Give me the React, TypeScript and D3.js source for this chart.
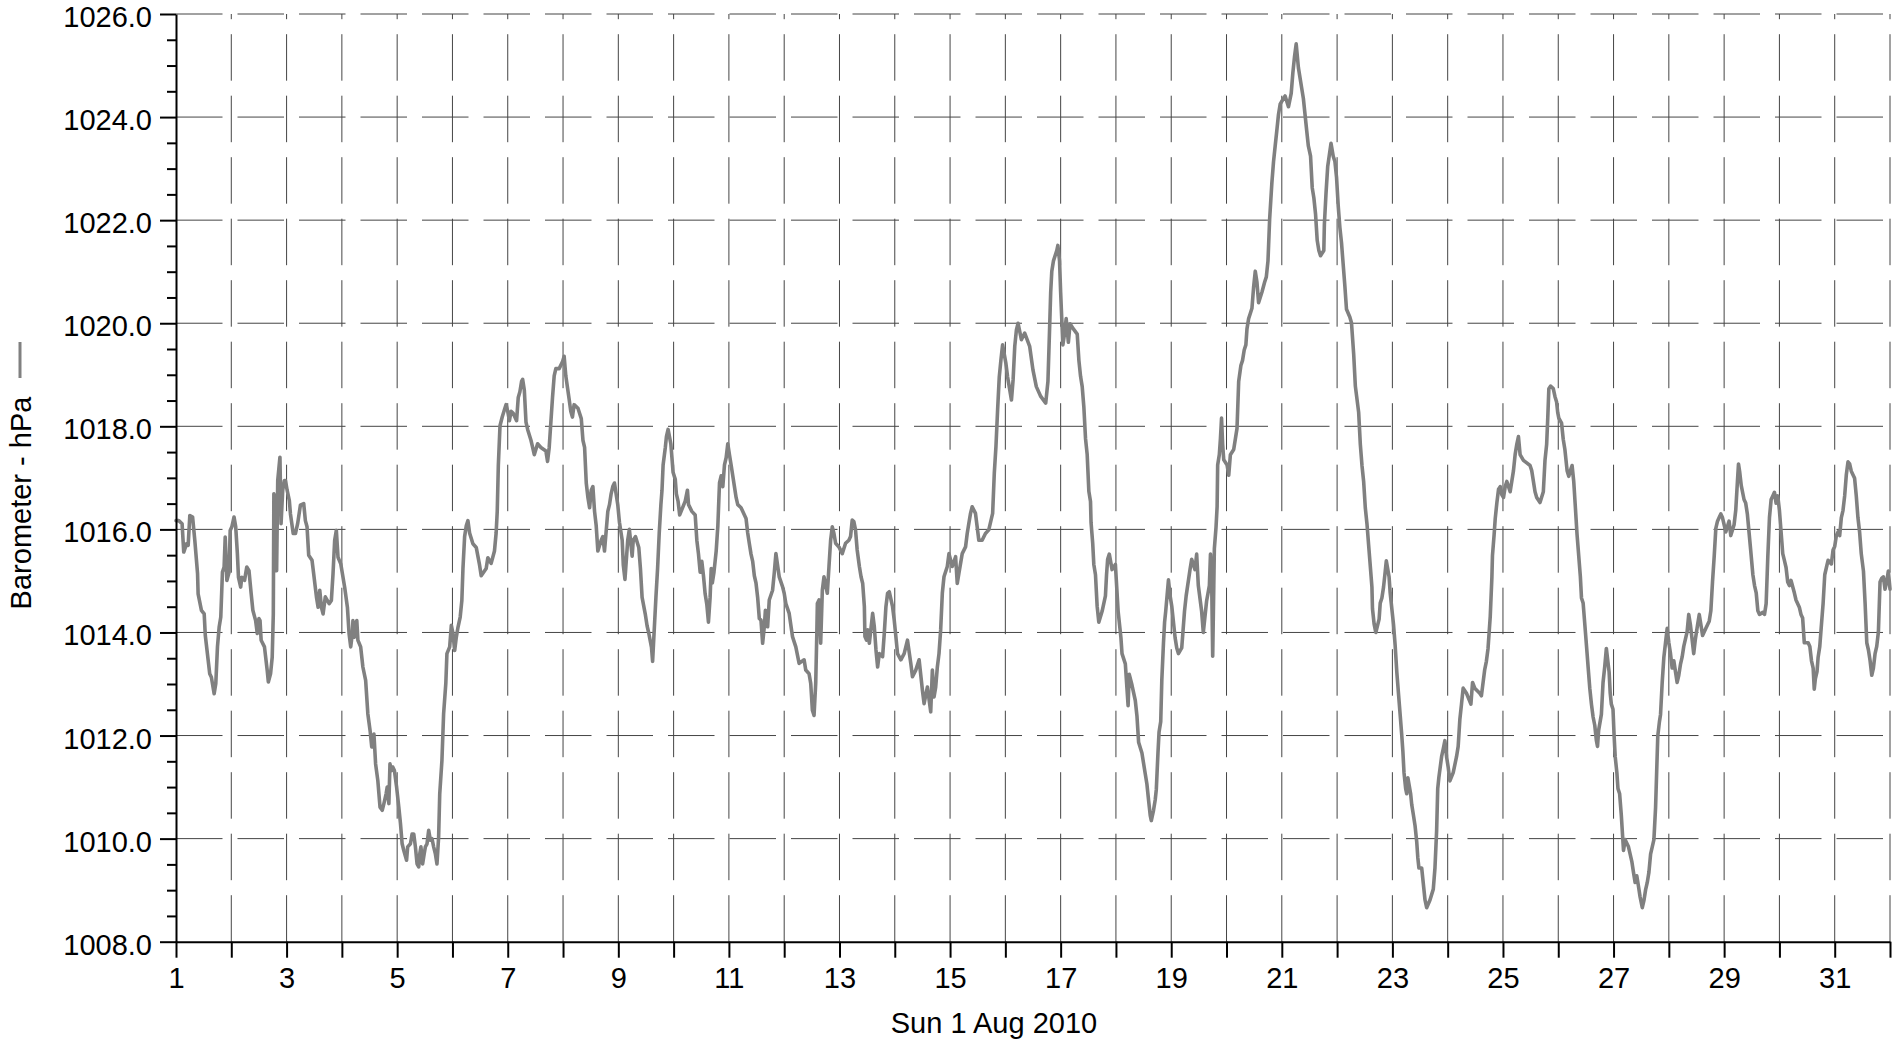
import React, { useEffect, useRef } from 'react';
import * as d3 from 'd3';

type Reading = [number, number]; // [day of month (decimal), hPa]

// Barometer readings, August 2010 in chunks of ~5 days
const aug01to06: Reading[] = [
  [1.00,1016.17],[1.05,1016.17],[1.11,1016.11],[1.14,1015.56],[1.19,1015.72],[1.22,1015.69],[1.25,1016.27],[1.30,1016.24],
  [1.34,1015.79],[1.39,1015.14],[1.40,1014.75],[1.46,1014.43],[1.51,1014.36],[1.53,1013.94],[1.61,1013.20],[1.64,1013.13],
  [1.69,1012.81],[1.72,1013.01],[1.75,1013.72],[1.78,1014.10],[1.81,1014.30],[1.84,1015.17],[1.87,1015.27],[1.89,1015.85],
  [1.92,1015.01],[1.96,1015.17],[1.98,1015.98],[2.01,1016.05],[2.05,1016.24],[2.08,1016.05],[2.11,1015.53],[2.13,1015.07],
  [2.17,1014.88],[2.19,1015.07],[2.24,1015.01],[2.28,1015.27],[2.32,1015.20],[2.36,1014.75],[2.39,1014.43],[2.44,1014.23],
  [2.47,1013.98],[2.50,1014.27],[2.52,1014.23],[2.54,1013.85],[2.60,1013.72],[2.65,1013.26],[2.67,1013.04],[2.71,1013.20],
  [2.74,1013.52],[2.76,1014.36],[2.77,1016.69],[2.80,1016.56],[2.82,1015.20],[2.84,1016.95],[2.88,1017.40],[2.90,1016.11],
  [2.93,1016.76],[2.96,1016.95],[2.98,1016.95],[3.01,1016.76],[3.05,1016.56],[3.07,1016.30],[3.12,1015.92],[3.16,1015.92],
  [3.20,1016.11],[3.25,1016.47],[3.31,1016.50],[3.34,1016.17],[3.37,1016.05],[3.40,1015.50],[3.46,1015.40],[3.49,1015.14],
  [3.54,1014.69],[3.57,1014.49],[3.60,1014.82],[3.63,1014.49],[3.66,1014.36],[3.70,1014.69],[3.77,1014.56],[3.81,1014.62],
  [3.84,1015.14],[3.87,1015.79],[3.90,1015.98],[3.93,1015.46],[3.98,1015.33],[4.01,1015.14],[4.05,1014.88],[4.10,1014.49],
  [4.13,1013.98],[4.16,1013.72],[4.19,1013.98],[4.20,1014.23],[4.23,1013.91],[4.27,1014.23],[4.29,1013.85],[4.34,1013.72],
  [4.38,1013.33],[4.43,1013.07],[4.47,1012.42],[4.51,1012.10],[4.54,1011.78],[4.58,1012.03],[4.61,1011.45],[4.65,1011.13],
  [4.69,1010.61],[4.73,1010.55],[4.76,1010.68],[4.80,1010.87],[4.82,1011.00],[4.85,1010.68],[4.87,1011.45],[4.90,1011.32],
  [4.92,1011.39],[4.95,1011.32],[4.99,1011.00],[5.03,1010.61],[5.06,1010.29],[5.09,1009.90],[5.12,1009.77],[5.17,1009.58],
  [5.19,1009.84],[5.24,1009.90],[5.27,1010.09],[5.30,1010.09],[5.33,1009.84],[5.36,1009.51],[5.39,1009.45],[5.41,1009.71],
  [5.43,1009.84],[5.46,1009.51],[5.49,1009.71],[5.51,1009.84],[5.54,1009.90],[5.57,1010.16],[5.60,1009.97],[5.63,1010.00],
  [5.66,1009.84],[5.69,1009.71],[5.72,1009.51],[5.75,1010.03],[5.77,1010.87],[5.81,1011.52],[5.84,1012.42],[5.88,1013.01],
  [5.90,1013.59],[5.95,1013.72],[5.98,1014.14],[6.01,1013.98],[6.04,1013.65],[6.07,1013.91],[6.10,1014.10],[6.14,1014.30],
  [6.17,1014.62],
];

const aug06to11: Reading[] = [
  [6.19,1015.24],[6.22,1015.86],[6.25,1016.07],[6.28,1016.17],[6.31,1015.93],[6.37,1015.72],[6.43,1015.65],[6.49,1015.31],
  [6.52,1015.10],[6.61,1015.24],[6.64,1015.45],[6.70,1015.34],[6.76,1015.58],[6.79,1015.93],[6.81,1016.35],[6.83,1017.25],
  [6.86,1018.01],[6.90,1018.18],[6.94,1018.32],[6.97,1018.42],[7.00,1018.29],[7.03,1018.11],[7.06,1018.29],[7.10,1018.25],
  [7.16,1018.11],[7.19,1018.56],[7.22,1018.67],[7.25,1018.87],[7.27,1018.91],[7.30,1018.70],[7.33,1018.08],[7.36,1017.94],
  [7.42,1017.73],[7.45,1017.59],[7.48,1017.45],[7.54,1017.66],[7.60,1017.59],[7.69,1017.52],[7.72,1017.32],[7.75,1017.59],
  [7.78,1018.08],[7.81,1018.56],[7.84,1018.98],[7.87,1019.12],[7.93,1019.12],[7.99,1019.25],[8.02,1019.36],[8.05,1018.98],
  [8.11,1018.53],[8.14,1018.29],[8.17,1018.18],[8.20,1018.42],[8.27,1018.35],[8.33,1018.15],[8.36,1017.73],[8.39,1017.59],
  [8.42,1016.90],[8.45,1016.62],[8.48,1016.42],[8.51,1016.76],[8.54,1016.83],[8.57,1016.35],[8.60,1016.07],[8.63,1015.58],
  [8.69,1015.79],[8.72,1015.86],[8.75,1015.58],[8.81,1016.35],[8.84,1016.48],[8.87,1016.69],[8.90,1016.83],[8.93,1016.90],
  [8.99,1016.48],[9.02,1016.14],[9.07,1015.79],[9.09,1015.31],[9.12,1015.03],[9.17,1015.79],[9.20,1016.00],[9.25,1015.48],
  [9.27,1015.79],[9.31,1015.86],[9.37,1015.65],[9.40,1015.24],[9.43,1014.68],[9.49,1014.34],[9.52,1014.13],[9.55,1013.99],
  [9.60,1013.71],[9.62,1013.44],[9.68,1014.68],[9.71,1015.24],[9.74,1015.93],[9.77,1016.48],[9.79,1016.76],[9.81,1017.25],
  [9.85,1017.59],[9.87,1017.80],[9.90,1017.94],[9.95,1017.66],[9.97,1017.39],[9.99,1017.11],[10.03,1016.97],[10.05,1016.69],
  [10.08,1016.55],[10.11,1016.28],[10.21,1016.55],[10.25,1016.76],[10.27,1016.48],[10.33,1016.35],[10.39,1016.28],[10.42,1015.79],
  [10.45,1015.52],[10.48,1015.17],[10.51,1015.38],[10.54,1015.10],[10.57,1014.75],[10.60,1014.55],[10.63,1014.20],[10.66,1014.68],
  [10.68,1015.24],[10.70,1014.96],[10.73,1015.17],[10.77,1015.58],[10.80,1016.07],[10.83,1016.90],[10.86,1017.04],[10.89,1016.83],
  [10.92,1017.25],[10.95,1017.39],[10.98,1017.66],[11.01,1017.45],[11.04,1017.25],[11.07,1017.04],[11.10,1016.83],[11.13,1016.62],
  [11.16,1016.48],[11.22,1016.42],[11.31,1016.21],[11.34,1015.93],[11.37,1015.72],[11.40,1015.52],[11.43,1015.38],[11.46,1015.10],
  [11.49,1014.96],[11.52,1014.68],[11.55,1014.27],
];

const aug11to16: Reading[] = [
  [11.58,1014.24],[11.61,1013.79],[11.64,1014.11],[11.66,1014.43],[11.70,1014.11],[11.73,1014.63],[11.79,1014.82],[11.82,1015.15],
  [11.85,1015.53],[11.91,1015.08],[11.97,1014.89],[12.00,1014.76],[12.03,1014.56],[12.09,1014.37],[12.15,1013.92],[12.21,1013.72],
  [12.27,1013.40],[12.36,1013.47],[12.39,1013.27],[12.45,1013.20],[12.48,1013.01],[12.51,1012.49],[12.54,1012.39],[12.57,1013.01],
  [12.59,1013.98],[12.60,1014.56],[12.63,1014.63],[12.66,1013.79],[12.69,1014.82],[12.72,1015.08],[12.78,1014.76],[12.81,1015.28],
  [12.84,1015.79],[12.87,1016.05],[12.90,1015.92],[12.93,1015.73],[12.99,1015.66],[13.05,1015.53],[13.11,1015.73],[13.17,1015.79],
  [13.20,1015.86],[13.23,1016.18],[13.26,1016.15],[13.29,1015.99],[13.32,1015.60],[13.36,1015.28],[13.39,1015.08],[13.42,1014.95],
  [13.45,1014.50],[13.46,1013.92],[13.49,1013.85],[13.51,1014.05],[13.54,1013.79],[13.60,1014.37],[13.63,1014.11],[13.66,1013.66],
  [13.69,1013.33],[13.72,1013.59],[13.78,1013.53],[13.81,1013.98],[13.84,1014.50],[13.87,1014.76],[13.90,1014.79],[13.96,1014.50],
  [13.99,1014.24],[14.02,1013.92],[14.05,1013.59],[14.11,1013.47],[14.17,1013.59],[14.23,1013.85],[14.29,1013.40],[14.32,1013.14],
  [14.38,1013.27],[14.44,1013.47],[14.50,1012.88],[14.53,1012.62],[14.59,1012.94],[14.65,1012.46],[14.68,1013.27],[14.71,1012.75],
  [14.74,1012.94],[14.77,1013.33],[14.80,1013.59],[14.83,1014.05],[14.86,1014.76],[14.89,1015.08],[14.95,1015.28],[14.98,1015.53],
  [15.04,1015.28],[15.10,1015.47],[15.13,1014.95],[15.16,1015.15],[15.22,1015.53],[15.28,1015.66],[15.31,1015.92],[15.34,1016.12],
  [15.37,1016.31],[15.40,1016.44],[15.46,1016.31],[15.49,1016.05],[15.52,1015.79],[15.58,1015.79],[15.64,1015.92],[15.70,1015.99],
  [15.77,1016.31],[15.80,1017.09],[15.83,1017.61],[15.86,1018.32],[15.89,1018.96],[15.92,1019.29],[15.95,1019.58],[16.01,1019.22],
  [16.04,1018.96],[16.07,1018.77],[16.11,1018.51],[16.14,1018.90],[16.17,1019.55],[16.20,1019.87],[16.23,1020.00],[16.29,1019.68],
  [16.35,1019.81],[16.44,1019.55],[16.50,1019.09],[16.56,1018.77],[16.64,1018.58],[16.73,1018.45],
];

const aug16to22: Reading[] = [
  [16.77,1018.87],[16.80,1019.89],[16.82,1020.60],[16.84,1021.01],[16.87,1021.21],[16.93,1021.41],[16.95,1021.51],[16.98,1021.21],
  [17.00,1020.60],[17.02,1020.09],[17.04,1019.58],[17.07,1019.79],[17.10,1020.09],[17.14,1019.63],[17.17,1019.99],[17.23,1019.89],
  [17.30,1019.79],[17.33,1019.28],[17.36,1018.97],[17.39,1018.77],[17.42,1018.37],[17.45,1017.76],[17.48,1017.45],[17.51,1016.74],
  [17.54,1016.54],[17.55,1016.13],[17.58,1015.73],[17.60,1015.32],[17.63,1015.12],[17.66,1014.51],[17.69,1014.20],[17.75,1014.41],
  [17.81,1014.71],[17.83,1015.12],[17.85,1015.42],[17.88,1015.52],[17.93,1015.22],[17.99,1015.32],[18.04,1014.41],[18.09,1013.90],
  [18.11,1013.59],[18.17,1013.39],[18.22,1012.58],[18.24,1013.19],[18.29,1012.98],[18.35,1012.68],[18.38,1012.38],[18.41,1011.87],
  [18.47,1011.66],[18.53,1011.26],[18.56,1011.06],[18.59,1010.75],[18.62,1010.45],[18.64,1010.35],[18.68,1010.55],[18.71,1010.75],
  [18.73,1010.95],[18.76,1011.66],[18.78,1012.07],[18.81,1012.27],[18.83,1013.08],[18.86,1013.80],[18.88,1014.20],[18.90,1014.41],
  [18.95,1015.02],[18.98,1014.71],[19.01,1014.51],[19.07,1013.90],[19.10,1013.70],[19.13,1013.59],[19.19,1013.70],[19.24,1014.41],
  [19.27,1014.71],[19.34,1015.22],[19.37,1015.42],[19.43,1015.22],[19.46,1015.52],[19.49,1014.91],[19.55,1014.41],[19.58,1014.00],
  [19.64,1014.61],[19.69,1014.91],[19.71,1015.52],[19.73,1015.12],[19.75,1013.54],[19.77,1014.91],[19.78,1015.62],[19.81,1016.04],
  [19.83,1016.44],[19.84,1017.25],[19.87,1017.45],[19.89,1017.76],[19.91,1018.16],[19.93,1017.65],[19.95,1017.35],[20.01,1017.25],
  [20.04,1017.05],[20.07,1017.45],[20.13,1017.55],[20.19,1017.96],[20.22,1018.87],[20.26,1019.18],[20.29,1019.28],[20.32,1019.48],
  [20.35,1019.58],[20.37,1019.89],[20.40,1020.09],[20.43,1020.19],[20.46,1020.29],[20.49,1020.70],[20.52,1021.01],[20.55,1020.80],
  [20.58,1020.40],[20.64,1020.60],[20.69,1020.80],[20.72,1020.90],[20.75,1021.21],[20.78,1022.02],[20.82,1022.72],[20.85,1023.13],
  [20.88,1023.44],[20.91,1023.74],[20.94,1024.05],[20.97,1024.25],[21.03,1024.36],[21.06,1024.41],[21.12,1024.20],[21.17,1024.46],
  [21.20,1024.86],[21.23,1025.17],[21.26,1025.42],[21.30,1024.96],[21.36,1024.56],[21.39,1024.36],[21.42,1024.05],[21.45,1023.74],
  [21.48,1023.44],[21.52,1023.24],[21.55,1022.63],[21.58,1022.43],[21.61,1022.12],[21.64,1021.61],[21.67,1021.41],[21.70,1021.31],
  [21.76,1021.41],[21.77,1021.92],[21.80,1022.53],[21.83,1023.04],[21.85,1023.19],[21.87,1023.34],[21.89,1023.49],[21.93,1023.24],
  [21.96,1023.14],[21.99,1022.83],
];

const aug22to27: Reading[] = [
  [22.02,1022.28],[22.05,1021.86],[22.08,1021.56],[22.11,1021.14],[22.14,1020.73],[22.17,1020.27],[22.23,1020.12],[22.26,1020.01],
  [22.30,1019.40],[22.33,1018.78],[22.39,1018.27],[22.42,1017.65],[22.45,1017.24],[22.48,1016.93],[22.51,1016.42],[22.54,1016.11],
  [22.57,1015.70],[22.60,1015.29],[22.63,1014.88],[22.64,1014.46],[22.67,1014.16],[22.70,1014.00],[22.76,1014.26],[22.78,1014.57],
  [22.81,1014.67],[22.84,1014.88],[22.87,1015.18],[22.89,1015.39],[22.94,1015.08],[22.96,1014.77],[22.99,1014.46],[23.02,1014.16],
  [23.05,1013.75],[23.08,1013.23],[23.11,1012.82],[23.14,1012.41],[23.17,1012.00],[23.19,1011.69],[23.21,1011.28],[23.24,1010.97],
  [23.26,1010.87],[23.28,1011.18],[23.33,1010.87],[23.35,1010.66],[23.38,1010.46],[23.41,1010.25],[23.44,1009.94],[23.46,1009.63],
  [23.48,1009.43],[23.53,1009.43],[23.56,1009.12],[23.59,1008.81],[23.62,1008.66],[23.68,1008.81],[23.74,1009.02],[23.77,1009.43],
  [23.80,1010.15],[23.82,1010.97],[23.84,1011.18],[23.89,1011.59],[23.92,1011.74],[23.95,1011.90],[23.98,1011.59],[24.01,1011.38],
  [24.04,1011.12],[24.10,1011.28],[24.16,1011.59],[24.19,1011.79],[24.22,1012.31],[24.25,1012.61],[24.28,1012.92],[24.34,1012.82],
  [24.42,1012.61],[24.45,1013.03],[24.49,1012.92],[24.58,1012.82],[24.61,1012.77],[24.67,1013.28],[24.70,1013.44],[24.73,1013.69],
  [24.77,1014.31],[24.80,1015.08],[24.81,1015.49],[24.84,1015.90],[24.86,1016.21],[24.89,1016.52],[24.92,1016.78],[24.95,1016.83],
  [24.98,1016.67],[25.01,1016.62],[25.04,1016.83],[25.07,1016.93],[25.13,1016.73],[25.19,1017.14],[25.22,1017.45],[25.25,1017.65],
  [25.28,1017.80],[25.31,1017.45],[25.37,1017.34],[25.43,1017.29],[25.49,1017.24],[25.52,1017.14],[25.58,1016.73],[25.61,1016.62],
  [25.67,1016.52],[25.73,1016.73],[25.76,1017.34],[25.79,1017.65],[25.81,1018.16],[25.83,1018.73],[25.86,1018.78],[25.91,1018.73],
  [25.94,1018.58],[25.97,1018.47],[25.99,1018.27],[26.01,1018.16],[26.06,1018.06],[26.09,1017.75],[26.12,1017.55],[26.16,1017.14],
  [26.19,1017.03],[26.22,1017.14],[26.25,1017.24],[26.28,1016.93],[26.31,1016.42],[26.34,1015.90],[26.37,1015.49],[26.40,1015.08],
  [26.42,1014.67],[26.45,1014.57],[26.48,1014.16],[26.51,1013.75],[26.54,1013.33],[26.57,1012.92],[26.60,1012.61],[26.63,1012.36],
  [26.66,1012.20],[26.69,1011.90],[26.71,1011.79],[26.73,1012.10],[26.78,1012.41],[26.81,1013.03],[26.84,1013.33],[26.87,1013.69],
  [26.92,1013.23],[26.94,1012.82],[26.96,1012.61],[26.99,1012.51],[27.01,1012.00],[27.03,1011.59],[27.06,1011.28],[27.08,1010.97],
  [27.11,1010.87],[27.14,1010.46],
];

const aug27to31: Reading[] = [
  [27.18,1009.77],[27.21,1009.98],[27.27,1009.84],[27.30,1009.70],[27.33,1009.56],[27.36,1009.35],[27.39,1009.15],[27.42,1009.28],
  [27.45,1009.08],[27.48,1008.87],[27.52,1008.66],[27.55,1008.80],[27.58,1009.01],[27.61,1009.15],[27.64,1009.35],[27.67,1009.70],
  [27.70,1009.84],[27.73,1009.98],[27.76,1010.60],[27.78,1011.30],[27.80,1011.99],[27.83,1012.27],[27.85,1012.41],[27.88,1013.03],
  [27.91,1013.52],[27.94,1013.80],[27.97,1014.08],[28.00,1013.80],[28.03,1013.59],[28.06,1013.31],[28.09,1013.45],[28.12,1013.24],
  [28.15,1013.03],[28.18,1013.17],[28.21,1013.38],[28.24,1013.52],[28.27,1013.73],[28.30,1013.87],[28.33,1014.01],[28.36,1014.35],
  [28.39,1014.15],[28.42,1013.87],[28.45,1013.59],[28.48,1013.87],[28.52,1014.15],[28.55,1014.35],[28.58,1014.15],[28.61,1013.94],
  [28.67,1014.08],[28.70,1014.15],[28.73,1014.22],[28.76,1014.42],[28.79,1014.98],[28.82,1015.47],[28.85,1016.02],[28.88,1016.16],
  [28.91,1016.23],[28.94,1016.30],[28.97,1016.23],[29.00,1016.09],[29.03,1015.95],[29.09,1016.16],[29.12,1015.88],[29.18,1016.09],
  [29.21,1016.37],[29.24,1016.92],[29.26,1017.27],[29.28,1017.13],[29.31,1016.85],[29.36,1016.58],[29.39,1016.51],[29.42,1016.30],
  [29.45,1015.95],[29.48,1015.60],[29.52,1015.12],[29.55,1014.91],[29.58,1014.77],[29.61,1014.42],[29.64,1014.35],[29.70,1014.39],
  [29.73,1014.35],[29.76,1014.56],[29.79,1015.47],[29.82,1016.23],[29.85,1016.58],[29.88,1016.65],[29.91,1016.72],[29.94,1016.51],
  [29.97,1016.65],[30.00,1016.37],[30.03,1015.95],[30.06,1015.53],[30.09,1015.40],[30.12,1015.26],[30.15,1014.98],[30.18,1014.91],
  [30.21,1015.01],[30.27,1014.77],[30.30,1014.63],[30.36,1014.49],[30.39,1014.35],[30.42,1014.28],[30.45,1013.80],[30.52,1013.80],
  [30.55,1013.73],[30.58,1013.45],[30.61,1013.31],[30.63,1012.90],[30.65,1013.10],[30.68,1013.24],[30.70,1013.52],[30.73,1013.73],
  [30.76,1014.15],[30.79,1014.56],[30.82,1015.12],[30.85,1015.26],[30.88,1015.40],[30.94,1015.33],[30.97,1015.60],[31.00,1015.67],
  [31.03,1015.88],[31.06,1015.95],[31.09,1015.88],[31.12,1016.23],[31.15,1016.37],[31.18,1016.65],[31.21,1017.06],[31.24,1017.31],
  [31.27,1017.27],[31.30,1017.13],[31.36,1016.99],[31.39,1016.65],[31.42,1016.23],[31.45,1015.95],[31.48,1015.53],[31.52,1015.19],
  [31.55,1014.56],[31.58,1013.80],[31.61,1013.66],[31.64,1013.45],[31.67,1013.17],[31.70,1013.31],[31.73,1013.59],[31.76,1013.73],
  [31.79,1014.01],[31.82,1014.98],[31.85,1015.05],[31.88,1015.08],[31.91,1014.84],[31.94,1014.98],[31.97,1015.19],[32.00,1014.84],
];

const yMajorTicks = [1008, 1010, 1012, 1014, 1016, 1018, 1020, 1022, 1024, 1026];
const yMinorStep = 0.5;
const xTitle = 'Sun 1 Aug 2010';
const yTitle = 'Barometer - hPa';

const START = Date.UTC(2010, 7, 1);
const DAY = 864e5;
const toDate = (d: number) => new Date(START + (d - 1) * DAY);
const dayIndex = (t: Date) => Math.round((+t - START) / DAY) + 1;

const W = 1893;
const H = 1040;
const margin = { top: 14, right: 3, bottom: 98.3, left: 176 };
const FONT = '"Liberation Sans", Arial, Helvetica, sans-serif';
const LINE_COLOR = '#808080';
const GRID_COLOR = '#454545';

const App: React.FC = () => {
  const svgRef = useRef<SVGSVGElement>(null);

  useEffect(() => {
    if (!svgRef.current) return;
    const svg = d3.select(svgRef.current);
    svg.selectAll('*').remove();

    const left = margin.left;
    const right = W - margin.right;
    const top = margin.top;
    const bottom = H - margin.bottom;

    const x = d3.scaleUtc()
      .domain([toDate(1), toDate(32)])
      .range([left, right]);

    const y = d3.scaleLinear()
      .domain([yMajorTicks[0], yMajorTicks[yMajorTicks.length - 1]])
      .range([bottom, top]);

    const days = d3.range(1, 33).map(toDate);
    const minorTicks = d3.range(yMajorTicks[0], yMajorTicks[yMajorTicks.length - 1] + 0.01, yMinorStep)
      .filter(v => !yMajorTicks.includes(v));

    // Grid (dashed)
    const grid = svg.append('g');
    grid.selectAll('.hgrid')
      .data(yMajorTicks.slice(1))
      .enter()
      .append('line')
      .attr('x1', left)
      .attr('x2', right)
      .attr('y1', d => y(d))
      .attr('y2', d => y(d))
      .attr('stroke', GRID_COLOR)
      .attr('stroke-width', 1)
      .attr('stroke-dasharray', '46.5,15');

    grid.selectAll('.vgrid')
      .data(days.slice(1))
      .enter()
      .append('line')
      .attr('x1', d => x(d))
      .attr('x2', d => x(d))
      .attr('y1', bottom)
      .attr('y2', top)
      .attr('stroke', GRID_COLOR)
      .attr('stroke-width', 1)
      .attr('stroke-dasharray', '46.5,15');

    // Series
    const series = [...aug01to06, ...aug06to11, ...aug11to16, ...aug16to22, ...aug22to27, ...aug27to31];
    const line = d3.line<Reading>()
      .x(d => x(toDate(d[0])))
      .y(d => y(d[1]));

    svg.append('path')
      .datum(series)
      .attr('d', line)
      .attr('fill', 'none')
      .attr('stroke', LINE_COLOR)
      .attr('stroke-width', 3.6)
      .attr('stroke-linejoin', 'round')
      .attr('stroke-linecap', 'round');

    // Y axis: minor ticks then major ticks + labels
    svg.append('g')
      .attr('transform', `translate(${left},0)`)
      .call(d3.axisLeft(y).tickValues(minorTicks).tickSize(9).tickSizeOuter(0).tickFormat(() => ''))
      .call(g => g.select('.domain').remove())
      .selectAll('line')
      .attr('stroke', '#000')
      .attr('stroke-width', 2);

    const yAxisG = svg.append('g')
      .attr('transform', `translate(${left},0)`)
      .call(d3.axisLeft(y).tickValues(yMajorTicks).tickSize(16).tickSizeOuter(0).tickPadding(8).tickFormat(d3.format('.1f')));
    yAxisG.select('.domain').attr('stroke', '#000').attr('stroke-width', 2);
    yAxisG.selectAll('line').attr('stroke', '#000').attr('stroke-width', 2);
    yAxisG.selectAll('text')
      .attr('dy', '0.43em')
      .attr('fill', '#000')
      .style('font-size', '29px')
      .style('font-family', FONT);

    // X axis: a tick every day, a label every other day
    const xAxisG = svg.append('g')
      .attr('transform', `translate(0,${bottom})`)
      .call(d3.axisBottom(x)
        .tickValues(days)
        .tickSize(16)
        .tickSizeOuter(0)
        .tickPadding(10)
        .tickFormat(d => {
          const n = dayIndex(d as Date);
          return n % 2 === 1 ? String(n) : '';
        }));
    xAxisG.select('.domain').attr('stroke', '#000').attr('stroke-width', 2);
    xAxisG.selectAll('line').attr('stroke', '#000').attr('stroke-width', 2);
    xAxisG.selectAll('text')
      .attr('fill', '#000')
      .style('font-size', '29px')
      .style('font-family', FONT);

    // Titles
    svg.append('text')
      .attr('x', 994)
      .attr('y', 1033)
      .attr('text-anchor', 'middle')
      .attr('fill', '#000')
      .style('font-size', '29px')
      .style('font-family', FONT)
      .text(xTitle);

    svg.append('text')
      .attr('transform', 'translate(31,503) rotate(-90)')
      .attr('text-anchor', 'middle')
      .attr('fill', '#000')
      .style('font-size', '29px')
      .style('font-family', FONT)
      .text(yTitle);

    // Legend swatch next to the y title
    svg.append('line')
      .attr('x1', 20)
      .attr('x2', 20)
      .attr('y1', 342)
      .attr('y2', 378)
      .attr('stroke', LINE_COLOR)
      .attr('stroke-width', 3);
  }, []);

  return (
    <>
      <style>{'body{margin:0;background:#fff}'}</style>
      <svg ref={svgRef} width={W} height={H} style={{ display: 'block', background: '#fff' }} />
    </>
  );
};

export default App;
